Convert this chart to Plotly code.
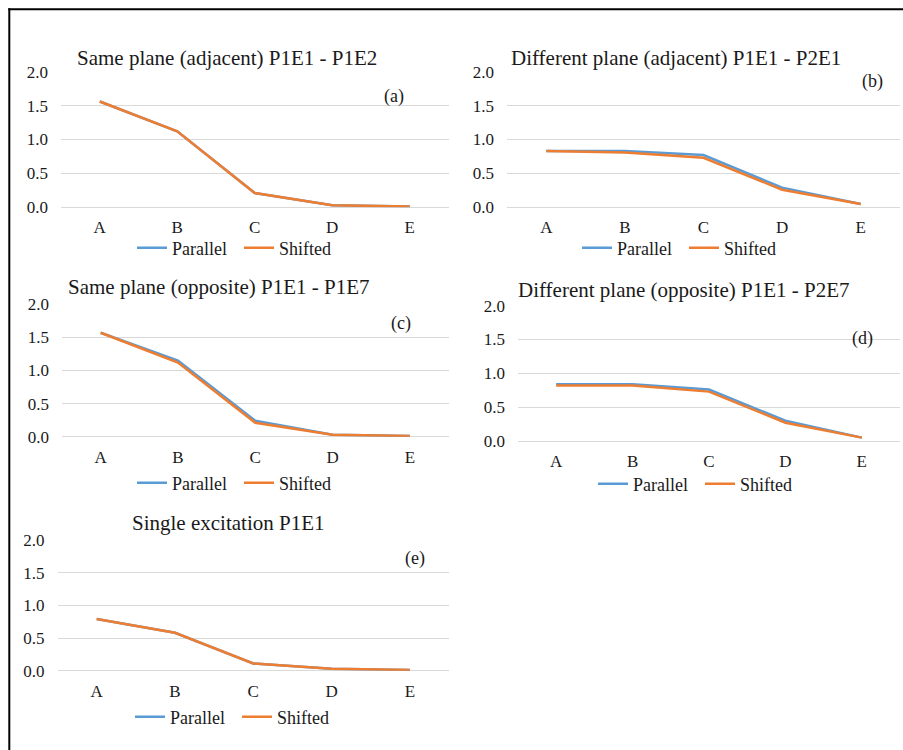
import plotly.graph_objects as go

W, H = 903, 750

categories = ["A", "B", "C", "D", "E"]
series_names = ["Parallel", "Shifted"]

a_parallel = [1.56, 1.12, 0.21, 0.03, 0.01]
a_shifted = [1.56, 1.12, 0.21, 0.03, 0.01]
b_parallel = [0.83, 0.83, 0.77, 0.29, 0.05]
b_shifted = [0.83, 0.81, 0.73, 0.26, 0.05]
c_parallel = [1.57, 1.15, 0.24, 0.03, 0.01]
c_shifted = [1.57, 1.12, 0.21, 0.03, 0.01]
d_parallel = [0.84, 0.84, 0.76, 0.30, 0.05]
d_shifted = [0.82, 0.82, 0.73, 0.27, 0.05]
e_parallel = [0.79, 0.58, 0.11, 0.03, 0.01]
e_shifted = [0.79, 0.58, 0.11, 0.03, 0.01]

titles = [
    "Same plane (adjacent) P1E1 - P1E2",
    "Different plane (adjacent) P1E1 - P2E1",
    "Same plane (opposite) P1E1 - P1E7",
    "Different plane (opposite) P1E1 - P2E7",
    "Single excitation P1E1",
]
panel_labels = ["(a)", "(b)", "(c)", "(d)", "(e)"]
y_tickvals = [0.0, 0.5, 1.0, 1.5, 2.0]
y_ticktext = ["0.0", "0.5", "1.0", "1.5", "2.0"]

data = [
    (a_parallel, a_shifted),
    (b_parallel, b_shifted),
    (c_parallel, c_shifted),
    (d_parallel, d_shifted),
    (e_parallel, e_shifted),
]

# panel geometry in pixels: x-left, x-right, y of 0.0, y of 2.0
geom = [
    (61, 448.5, 207.3, 71.7),
    (507, 900, 207.3, 71.7),
    (62, 448.5, 436.7, 304.3),
    (518, 900, 441.0, 305.7),
    (57.5, 449, 670.7, 540.0),
]
title_pos = [(227, 58), (676, 58), (219, 287), (683, 290), (228, 523)]
label_pos = [(394, 96), (872, 82), (401, 323), (862, 339), (415, 558)]
legend_pos = [(137, 248), (582, 248), (137, 483), (598, 484), (135, 717)]

FONT = "Liberation Serif, Times New Roman, serif"
TXT = "#1a1a1a"
BLUE = "#5B9BD5"
ORANGE = "#ED7D31"
GRID = "#d9d9d9"

fig = go.Figure()
layout = dict(
    width=W, height=H,
    margin=dict(l=0, r=0, t=0, b=0, autoexpand=False),
    paper_bgcolor="white", plot_bgcolor="white",
    font=dict(family=FONT, size=17, color=TXT),
    annotations=[], shapes=[],
)

colors = [BLUE, ORANGE]
for i, ((par, shi), (xl, xr, y0, y2)) in enumerate(zip(data, geom)):
    n = "" if i == 0 else str(i + 1)
    legname = "legend" + n
    for name, vals, col in zip(series_names, (par, shi), colors):
        fig.add_trace(go.Scatter(
            x=categories, y=vals, mode="lines", name=name,
            line=dict(color=col, width=2.5),
            xaxis="x" + n, yaxis="y" + n, legend=legname,
            showlegend=True,
        ))
    layout["xaxis" + n] = dict(
        domain=[xl / W, xr / W], anchor="y" + n,
        type="category", range=[-0.5, 4.5], automargin=False,
        showgrid=False, zeroline=False, showline=False, ticks="",
        tickfont=dict(family=FONT, size=17, color=TXT),
        ticklabelstandoff=8, fixedrange=True,
    )
    layout["yaxis" + n] = dict(
        domain=[1 - y0 / H, 1 - y2 / H], anchor="x" + n,
        range=[0, 2], tickvals=y_tickvals, ticktext=y_ticktext,
        automargin=False,
        showgrid=True, gridcolor=GRID, gridwidth=1,
        zeroline=True, zerolinecolor=GRID, zerolinewidth=1,
        showline=False, ticks="",
        tickfont=dict(family=FONT, size=17, color=TXT),
        ticklabelstandoff=12, fixedrange=True,
    )
    lx, ly = legend_pos[i]
    layout[legname] = dict(
        orientation="h", x=(lx - 5) / W, xanchor="left",
        y=1 - ly / H, yanchor="middle",
        font=dict(family=FONT, size=18, color=TXT),
        bgcolor="rgba(0,0,0,0)", borderwidth=0,
        entrywidth=62, entrywidthmode="pixels",
    )
    tx, ty = title_pos[i]
    layout["annotations"].append(dict(
        x=tx / W, y=1 - ty / H, xref="paper", yref="paper",
        text=titles[i], showarrow=False, xanchor="center", yanchor="middle",
        font=dict(family=FONT, size=21, color=TXT),
    ))
    px, py = label_pos[i]
    layout["annotations"].append(dict(
        x=px / W, y=1 - py / H, xref="paper", yref="paper",
        text=panel_labels[i], showarrow=False, xanchor="center", yanchor="middle",
        font=dict(family=FONT, size=18, color=TXT),
    ))

# outer frame: only left and top edges are visible in the picture
layout["shapes"].append(dict(
    type="line", xref="paper", yref="paper",
    x0=9.3 / W, x1=9.3 / W, y0=0, y1=1 - 8.3 / H,
    line=dict(color="black", width=2), layer="above",
))
layout["shapes"].append(dict(
    type="line", xref="paper", yref="paper",
    x0=8.3 / W, x1=1, y0=1 - 9.3 / H, y1=1 - 9.3 / H,
    line=dict(color="black", width=2), layer="above",
))

fig.update_layout(**layout)

page_js = "document.body.style.margin='0px';document.body.style.overflow='hidden';"
fig.write_html("out.html", config={"displayModeBar": False}, post_script=page_js)
